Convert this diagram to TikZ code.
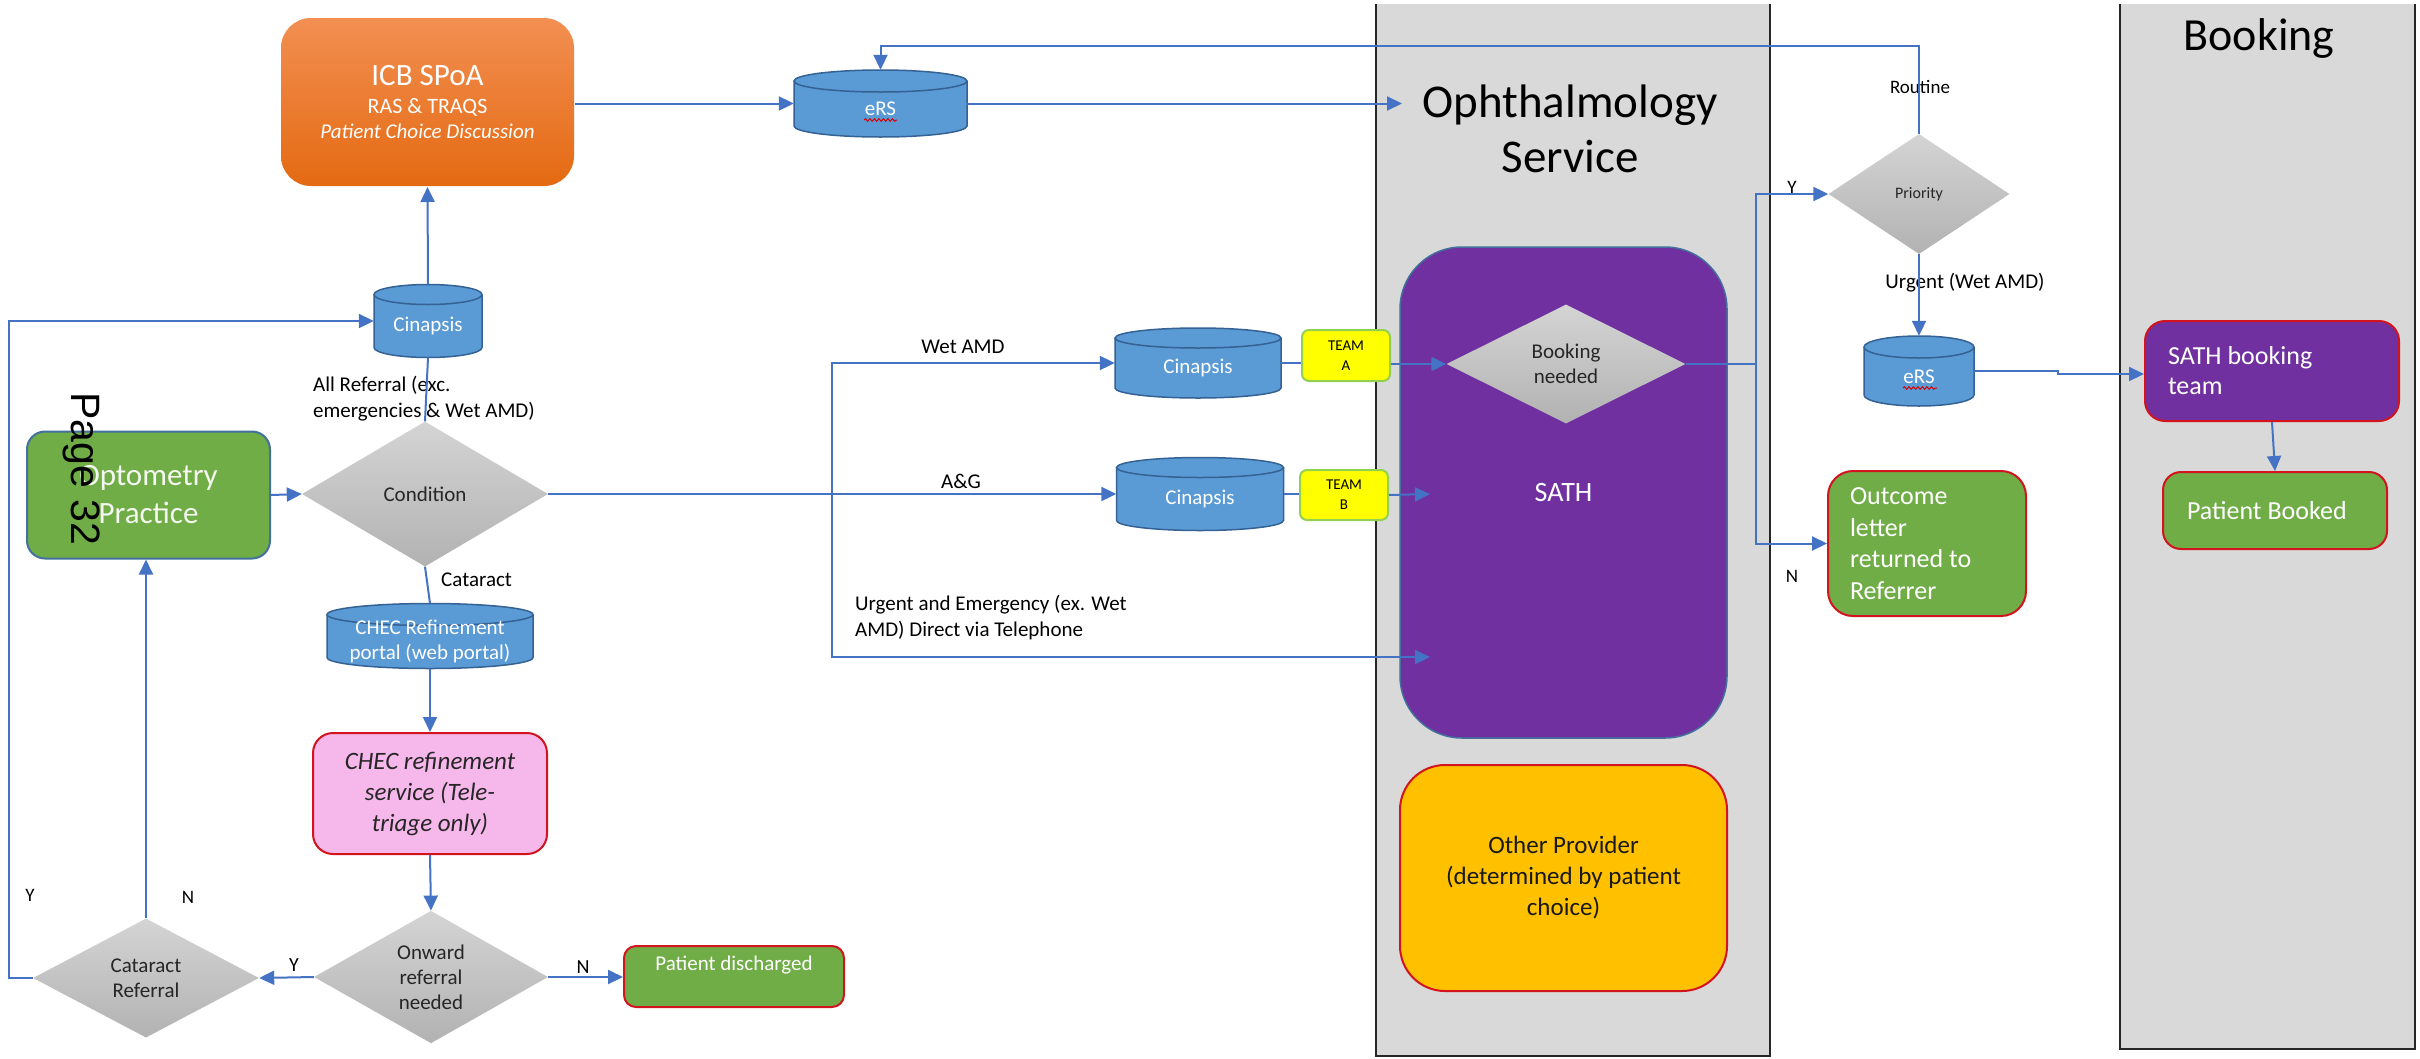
\documentclass[tikz,border=0pt]{standalone}
\usepackage{fontspec}
\setmainfont{Carlito}
\newfontfamily\pagefont{Liberation Sans}
\usetikzlibrary{arrows.meta,shapes.geometric,decorations.pathmorphing}
\definecolor{lnblue}{RGB}{68,114,196}
\definecolor{cylblue}{RGB}{91,155,213}
\definecolor{cylbd}{RGB}{52,98,148}
\definecolor{offgreen}{RGB}{112,173,71}
\definecolor{offpurple}{RGB}{112,48,160}
\definecolor{icbT}{RGB}{242,143,82}
\definecolor{icbB}{RGB}{228,106,18}
\definecolor{pinkfill}{RGB}{246,183,235}
\definecolor{redbd}{RGB}{210,20,30}
\definecolor{teamfill}{RGB}{255,255,0}
\definecolor{teambd}{RGB}{146,208,80}
\definecolor{lanegray}{RGB}{217,217,217}
\definecolor{diaT}{RGB}{212,212,212}
\definecolor{diaB}{RGB}{178,178,178}
\definecolor{amber}{RGB}{255,192,0}
\definecolor{optbd}{RGB}{65,113,156}
\newcommand{\dbcyl}[7]{%
  \pgfmathsetmacro{\cyL}{#2-#4/2}%
  \pgfmathsetmacro{\cyR}{#2+#4/2}%
  \pgfmathsetmacro{\cyT}{#3-#5/2+#6}%
  \pgfmathsetmacro{\cyB}{#3+#5/2-#6}%
  \pgfmathsetmacro{\cyBB}{#3+#5/2}%
  \pgfmathsetmacro{\cyRx}{#4/2}%
  \pgfmathsetmacro{\cyKx}{0.5523*#4/2}%
  \pgfmathsetmacro{\cyKy}{0.5523*#6}%
  \node[inner sep=0pt, minimum width=#4pt, minimum height=#5pt] (#1) at (#2,#3) {};
  \filldraw[cylshape] (\cyL,\cyT) -- (\cyL,\cyB) .. controls (\cyL,\cyB+\cyKy) and (#2-\cyKx,\cyBB) .. (#2,\cyBB) .. controls (#2+\cyKx,\cyBB) and (\cyR,\cyB+\cyKy) .. (\cyR,\cyB) -- (\cyR,\cyT);
  \filldraw[cylshape] (#2,\cyT) ellipse [x radius=\cyRx pt, y radius=#6pt];
  \node[cyltext] (#1t) at (#2,#3+#6/2) {#7};
}
\tikzset{
  ln/.style={draw=lnblue, line width=2pt},
  arr/.style={ln, -{Triangle[length=15pt,width=14pt]}},
  cylshape/.style={fill=cylblue, draw=cylbd, line width=1.5pt},
  cyltext/.style={text=white, font=\fontsize{21}{25}\selectfont, align=center, inner sep=0pt},
  dia/.style={diamond, inner sep=0pt, top color=diaT, bottom color=diaB, draw=none, text=black!85, align=center, font=\fontsize{21}{25}\selectfont},
  box/.style={rectangle, rounded corners=16pt, line width=2pt, align=center, inner sep=0pt},
  lbl/.style={font=\fontsize{21}{26}\selectfont, text=black, inner sep=0pt},
  yn/.style={font=\fontsize{19}{22}\selectfont, text=black, inner sep=0pt},
  lanebd/.style={draw=black!85, line width=2.5pt},
  squig/.style={draw=red!85!black, line width=1pt, decorate, decoration={snake, amplitude=1.3pt, segment length=4.5pt}},
}
\begin{document}
\begin{tikzpicture}[x=1pt,y=-1pt]
\useasboundingbox (0,0) rectangle (2420,1058);
\fill[white] (0,0) rectangle (2420,1058);
% lanes
\fill[lanegray] (1376,4) rectangle (1770,1056);
\draw[lanebd] (1376,4) -- (1376,1056) -- (1770,1056) -- (1770,4);
\fill[lanegray] (2120,4) rectangle (2415,1049);
\draw[lanebd] (2120,4) -- (2120,1049) -- (2415,1049) -- (2415,4);
\node[font=\fontsize{47}{55}\selectfont, align=center, inner sep=0pt] (ophT) at (1570,129) {Ophthalmology\\Service};
\node[font=\fontsize{46}{54}\selectfont, inner sep=0pt] (bookT) at (2259,38) {Booking};

% ICB
\node[box, rounded corners=30pt, minimum width=293pt, minimum height=168pt, top color=icbT, bottom color=icbB, text=white, font=\fontsize{21}{25}\selectfont] (icb) at (427.5,102)
  {{\fontsize{31}{31}\selectfont ICB SPoA}\\[3pt]{\fontsize{22}{22}\selectfont RAS \& TRAQS}\\{\itshape Patient Choice Discussion}};

% cylinders
\dbcyl{ersA}{880.5}{103.5}{173}{67}{11}{eRS}
\dbcyl{cinL}{428}{321}{108}{73}{10}{Cinapsis}
\dbcyl{chec}{430}{636}{206}{65}{11}{CHEC Refinement\\portal (web portal)}
\dbcyl{cinA}{1198}{363}{166}{70}{10}{Cinapsis}
\dbcyl{cinB}{1200}{494}{167}{73}{10}{Cinapsis}
\dbcyl{ersB}{1919}{371}{110}{70}{11}{eRS}
\path[squig] (864,120) -- (897,120);
\path[squig] (1903,388) -- (1937,388);

% left side
\node[box, fill=offgreen, draw=optbd, rounded corners=18pt, minimum width=243pt, minimum height=127pt, text=white!92!offgreen, font=\fontsize{31}{38}\selectfont] (opt) at (148.5,495) {Optometry\\Practice};
\node[dia, minimum width=246pt, minimum height=145pt] (cond) at (425,494) {Condition};
\node[box, fill=pinkfill, draw=redbd, rounded corners=20pt, minimum width=234pt, minimum height=121pt, font=\fontsize{25}{31}\selectfont\itshape, text=black!85] (pink) at (430,793.5) {CHEC refinement\\service (Tele-\\triage only)};
\node[dia, minimum width=234pt, minimum height=121pt] (onw) at (431,977) {Onward\\referral\\needed};
\node[dia, minimum width=226pt, minimum height=119pt] (catr) at (146,978) {Cataract\\Referral};
\node[box, fill=offgreen, draw=redbd, rounded corners=12pt, minimum width=220pt, minimum height=61pt, text=white, font=\fontsize{21}{25}\selectfont, text depth=27pt] (disc) at (734,976.5) {Patient discharged};

% ophthalmology lane
\node[box, fill=offpurple, draw=optbd, line width=1.5pt, rounded corners=62pt, minimum width=327pt, minimum height=491pt, text=white, font=\fontsize{28}{32}\selectfont] (sath) at (1563.5,492.5) {SATH};
\node[dia, minimum width=239pt, minimum height=119pt] (bneed) at (1566,364) {Booking\\needed};
\node[box, fill=amber, draw=redbd, rounded corners=45pt, minimum width=327pt, minimum height=226pt, text=black!90, font=\fontsize{25}{31}\selectfont] (other) at (1563.5,878) {Other Provider\\(determined by patient\\choice)};
\node[box, fill=teamfill, draw=teambd, rounded corners=7pt, minimum width=88pt, minimum height=51pt, font=\fontsize{15}{20}\selectfont] (teamA) at (1346,355.5) {TEAM\\A};
\node[box, fill=teamfill, draw=teambd, rounded corners=7pt, minimum width=88pt, minimum height=50pt, font=\fontsize{15}{20}\selectfont] (teamB) at (1344,495) {TEAM\\B};

% right part
\node[dia, minimum width=181pt, minimum height=120pt, font=\fontsize{16}{20}\selectfont] (prio) at (1919,194) {Priority};
\node[box, fill=offgreen, draw=redbd, rounded corners=25pt, minimum height=145pt, inner xsep=22pt, text width=154pt, align=flush left, text=white, font=\fontsize{26}{31.5}\selectfont] (outc) at (1927,543.5) {Outcome\\letter\\returned to\\Referrer};
\node[box, fill=offpurple, draw=redbd, rounded corners=20pt, minimum height=100pt, inner xsep=23pt, text width=208pt, align=flush left, text=white, font=\fontsize{26}{30}\selectfont] (sbt) at (2272,371) {SATH booking\\team};
\node[box, fill=offgreen, draw=redbd, rounded corners=18pt, minimum height=77pt, inner xsep=24pt, text width=176pt, align=flush left, text=white, font=\fontsize{26}{30}\selectfont] (pbk) at (2275,510.5) {Patient Booked};

% labels
\node[lbl, anchor=west, align=left] (lAll) at (313,399) {All Referral (exc.\\emergencies \& Wet AMD)};
\node[lbl, anchor=west] (lCat) at (441,580) {Cataract};
\node[lbl] (lWet) at (963,347) {Wet AMD};
\node[lbl] (lAG) at (961,481) {A\&G};
\node[lbl, anchor=west, align=left] (lUrg) at (855,618) {Urgent and Emergency (ex. Wet\\AMD) Direct via Telephone};
\node[lbl, font=\fontsize{19}{22}\selectfont] (lRout) at (1920,87) {Routine};
\node[lbl] (lUrgW) at (1965,283) {Urgent (Wet AMD)};
\node[yn] (lY1) at (1792,187) {Y};
\node[yn] (lN1) at (1792,576) {N};
\node[yn, font=\fontsize{20}{22}\selectfont] (lY2) at (294,965) {Y};
\node[yn, font=\fontsize{20}{22}\selectfont] (lN2) at (583,967) {N};
\node[yn] (lY3) at (30,895) {Y};
\node[yn] (lN3) at (188,897) {N};

% connectors
\coordinate (loopL) at (9,978);
\coordinate (ophIn) at (1402,103.5);
\coordinate (rtTop) at (1919,46);
\coordinate (split) at (832,494);
\coordinate (urgEnd) at (1430,657);
\coordinate (tbEnd) at (1430,494);
\coordinate (bsplit) at (1756,364);
\coordinate (jog) at (2058,374);

\draw[arr] (opt.east) -- (cond.west);
\draw[arr] (cinL.north) -- (icb.south);
\draw[ln] (cinL.south) -- (cond.north);
\draw[ln] (cond.south) -- (chec.north);
\draw[arr] (chec.south) -- (pink.north);
\draw[arr] (pink.south) -- (onw.north);
\draw[arr] (onw.east) -- (disc.west |- onw.east);
\draw[arr] (onw.west) -- (catr.east);
\draw[arr] (catr.north) -- (opt.south -| catr.north);
\draw[arr] (catr.west) -- (loopL) |- (cinL.west);
\draw[arr] (icb.east |- ersA.west) -- (ersA.west);
\draw[arr] (ersA.east) -- (ophIn);
\draw[arr] (prio.north) -- (rtTop) -| (ersA.north);
\draw[ln] (cond.east) -- (split);
\draw[arr] (split) -- (cinB.west);
\draw[arr] (split) |- (cinA.west);
\draw[arr] (split) |- (urgEnd);
\draw[ln] (cinA.east) -- (cinA.east -| teamA.west);
\draw[arr] (teamA.east |- bneed.west) -- (bneed.west);
\draw[ln] (cinB.east) -- (cinB.east -| teamB.west);
\draw[arr] (teamB.east) -- (tbEnd);
\draw[ln] (bneed.east) -- (bsplit);
\draw[arr] (bsplit) |- (prio.west);
\draw[arr] (bsplit) |- (outc.west);
\draw[arr] (prio.south) -- (ersB.north);
\draw[arr] (ersB.east) -- (ersB.east -| jog) -- (jog) -- (jog -| sbt.west);
\draw[arr] (sbt.south) -- (pbk.north);

% page stamp
\node[font=\pagefont\fontsize{41}{41}\selectfont, rotate=-90, inner sep=0pt] (pg) at (81.5,469) {Page 32};
\end{tikzpicture}
\end{document}
